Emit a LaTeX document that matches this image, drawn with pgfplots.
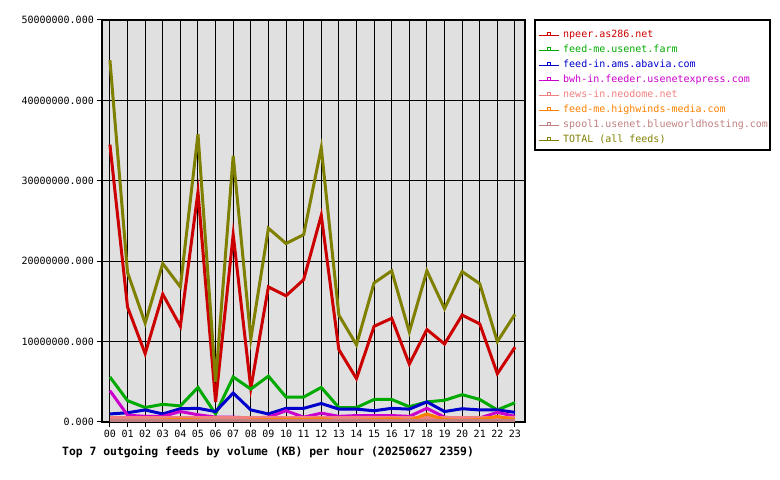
\documentclass[border=0pt]{standalone}
\usepackage{fontspec}
\setmainfont{DejaVu Sans Mono}
\usepackage{pgfplots}
\usepackage{pgfplotstable}
\pgfplotsset{compat=1.18}
\definecolor{cnpeer}{HTML}{CC0000}
\definecolor{cfarm}{HTML}{00AA00}
\definecolor{cabavia}{HTML}{0000CC}
\definecolor{cbwh}{HTML}{CC00CC}
\definecolor{cneodome}{HTML}{F08080}
\definecolor{chighwinds}{HTML}{FF8000}
\definecolor{cspool}{HTML}{C08080}
\definecolor{ctotal}{HTML}{808000}
\definecolor{plotbg}{HTML}{E0E0E0}
\pgfplotstableread{
h npeer farm abavia bwh neodome highwinds spool total
0 34500000 5600000 1000000 3900000 550000 100000 150000 45000000
1 14300000 2650000 1150000 850000 550000 100000 150000 18600000
2 8500000 1800000 1500000 700000 550000 100000 150000 12300000
3 15900000 2200000 1000000 700000 550000 250000 150000 19700000
4 11900000 2000000 1650000 1300000 550000 350000 150000 16800000
5 28600000 4300000 1700000 900000 550000 250000 150000 35800000
6 2500000 1000000 1300000 600000 550000 100000 150000 5000000
7 23300000 5600000 3600000 600000 550000 100000 150000 33100000
8 4200000 4100000 1500000 500000 550000 250000 150000 10300000
9 16800000 5700000 1000000 600000 550000 300000 150000 24100000
10 15700000 3100000 1700000 1400000 550000 350000 150000 22200000
11 17700000 3100000 1700000 600000 550000 300000 150000 23300000
12 25700000 4300000 2300000 1100000 550000 400000 150000 34100000
13 9000000 1800000 1600000 700000 550000 150000 150000 13300000
14 5400000 1800000 1600000 800000 550000 200000 150000 9600000
15 11900000 2800000 1400000 800000 550000 300000 150000 17300000
16 12900000 2800000 1700000 800000 550000 400000 150000 18800000
17 7200000 1900000 1600000 700000 550000 200000 150000 11200000
18 11500000 2500000 2500000 1700000 550000 1000000 150000 18800000
19 9700000 2700000 1300000 600000 550000 300000 150000 14100000
20 13300000 3400000 1650000 400000 550000 200000 150000 18700000
21 12200000 2800000 1500000 500000 550000 300000 150000 17200000
22 6000000 1500000 1500000 1200000 550000 700000 150000 10000000
23 9300000 2400000 1200000 700000 550000 300000 150000 13400000
}\feeds
\begin{document}
\begin{tikzpicture}
\begin{axis}[
  name=ax,
  at={(0bp,0bp)}, anchor=south west,
  width=423bp, height=402bp, scale only axis,
  xmin=-0.45, xmax=23.57, ymin=0, ymax=50000000,
  axis background/.style={fill=plotbg},
  xtick={0,...,23},
  xticklabels={00,01,02,03,04,05,06,07,08,09,10,11,12,13,14,15,16,17,18,19,20,21,22,23},
  ytick={0,10000000,20000000,30000000,40000000,50000000},
  yticklabels={0.000,10000000.000,20000000.000,30000000.000,40000000.000,50000000.000},
  scaled y ticks=false,
  xtick pos=bottom, ytick pos=left,
  tick align=outside, major tick length=5bp,
  tick style={black, line width=1bp},
  grid=major, major grid style={black, line width=1bp},
  axis line style={black, line width=1.5bp},
  ticklabel style={font=\fontsize{10bp}{12bp}\selectfont, inner sep=3bp},
  every axis plot/.append style={line width=3bp, no markers},
  legend image code/.code={
    \draw[#1, line width=1bp] (0bp,0bp) -- (20bp,0bp);
    \draw[#1, line width=0.8bp] (8.5bp,0bp) rectangle (11.5bp,2.5bp);
  },
  legend style={at={(1.0307,0.975)}, anchor=north west, draw=none, fill=none,
    font=\fontsize{10bp}{12bp}\selectfont, inner sep=0pt,
    row sep=5bp, column sep=4bp,
    nodes={inner sep=0pt, text height=7.5bp, text depth=2.5bp, anchor=west}},
  legend cell align=left,
]
\addplot[cnpeer] table[x=h, y=npeer] {\feeds};
\addlegendentry{\textcolor{cnpeer}{npeer.as286.net}}
\addplot[cfarm] table[x=h, y=farm] {\feeds};
\addlegendentry{\textcolor{cfarm}{feed-me.usenet.farm}}
\addplot[cabavia] table[x=h, y=abavia] {\feeds};
\addlegendentry{\textcolor{cabavia}{feed-in.ams.abavia.com}}
\addplot[cbwh] table[x=h, y=bwh] {\feeds};
\addlegendentry{\textcolor{cbwh}{bwh-in.feeder.usenetexpress.com}}
\addplot[cneodome] table[x=h, y=neodome] {\feeds};
\addlegendentry{\textcolor{cneodome}{news-in.neodome.net}}
\addplot[chighwinds] table[x=h, y=highwinds] {\feeds};
\addlegendentry{\textcolor{chighwinds}{feed-me.highwinds-media.com}}
\addplot[cspool] table[x=h, y=spool] {\feeds};
\addlegendentry{\textcolor{cspool}{spool1.usenet.blueworldhosting.com}}
\addplot[ctotal] table[x=h, y=total] {\feeds};
\addlegendentry{\textcolor{ctotal}{TOTAL (all feeds)}}
\end{axis}
\begin{scope}[shift={(ax.south west)}, x=1bp, y=1bp]
\draw[black, line width=1.5bp] (433,272) rectangle (668,402);
\node[anchor=base west, inner sep=0pt, font=\fontsize{11.4bp}{13bp}\selectfont\bfseries] at (-40,-34)
  {Top 7 outgoing feeds by volume (KB) per hour (20250627 2359)};
\pgfresetboundingbox
\useasboundingbox (-102,-58) rectangle (678,422);
\end{scope}
\end{tikzpicture}
\end{document}
